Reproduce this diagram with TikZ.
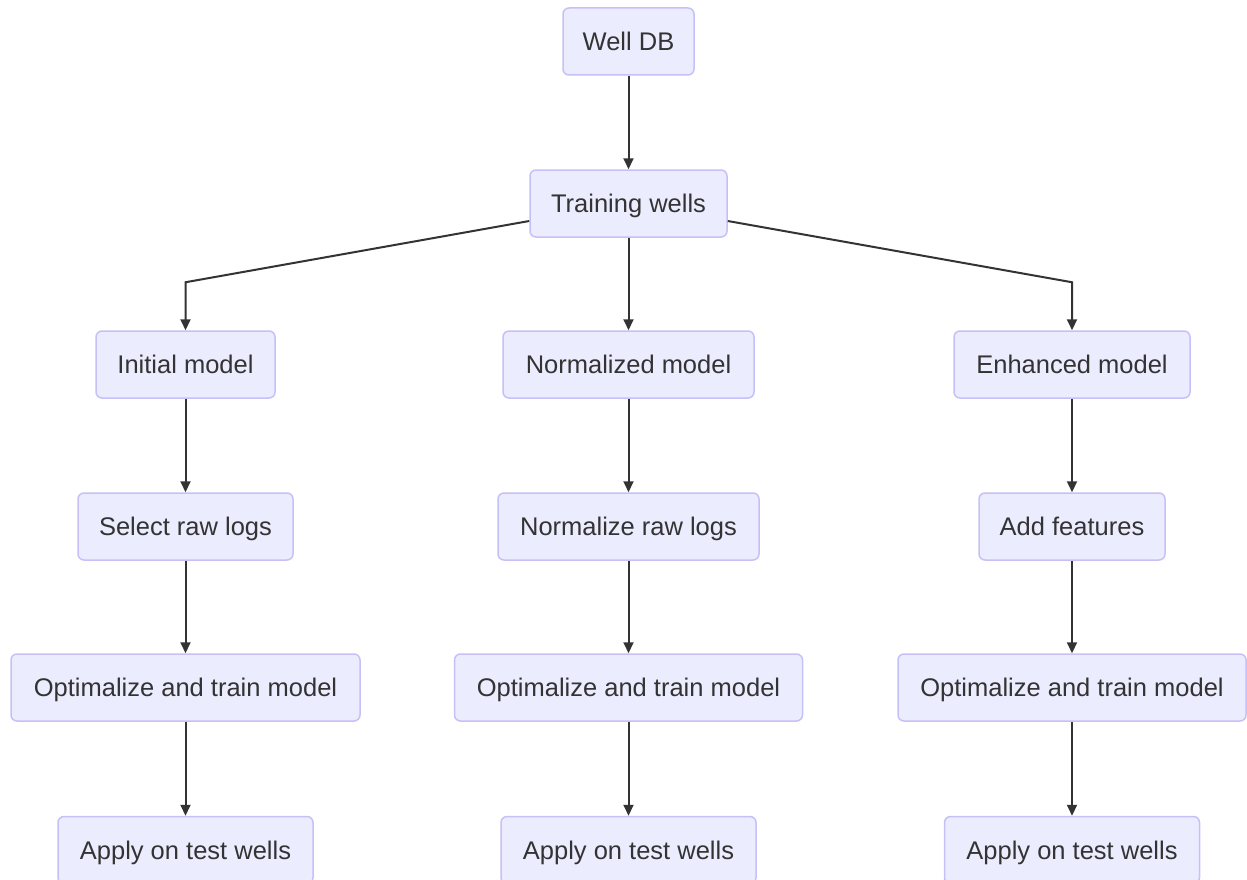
\documentclass[tikz,border=0pt]{standalone}
\usepackage{fontspec}
\setmainfont{Liberation Sans}
\usetikzlibrary{arrows.meta}
\definecolor{boxfill}{HTML}{ECECFF}
\definecolor{boxline}{HTML}{C6C0F8}
\definecolor{ink}{HTML}{333333}
\begin{document}
\begin{tikzpicture}[x=1pt,y=-1pt,
  box/.style={draw=boxline, line width=1.5pt, fill=boxfill, rounded corners=6pt,
    minimum height=67pt, inner xsep=4pt, inner ysep=0pt, text=ink,
    text height=18.3pt, text depth=0pt,
    font=\fontsize{25.5}{30}\selectfont},
  conn/.style={draw=ink, line width=2pt, -{Triangle[length=11pt,width=10pt]}}]
\useasboundingbox (0,0) rectangle (1247,880);
\clip (0,0) rectangle (1247,880);
\node[box, minimum width=131pt] (db) at (628.5,41.5) {Well DB};
\node[box, minimum width=197pt] (tw) at (628.5,203.5) {Training wells};
\node[box, minimum width=179pt] (im) at (185.5,364.5) {Initial model};
\node[box, minimum width=251pt] (nm) at (628.5,364.5) {Normalized model};
\node[box, minimum width=236pt] (em) at (1072,364.5) {Enhanced model};
\node[box, minimum width=215pt] (s1) at (185.5,526.5) {Select raw logs};
\node[box, minimum width=261pt] (s2) at (628.5,526.5) {Normalize raw logs};
\node[box, minimum width=186pt] (s3) at (1072,526.5) {Add features};
\node[box, minimum width=349pt] (o1) at (185.5,687.5) {Optimalize and train model};
\node[box, minimum width=348pt] (o2) at (628.5,687.5) {Optimalize and train model};
\node[box, minimum width=348pt] (o3) at (1072,687.5) {Optimalize and train model};
\node[box, minimum width=255pt] (a1) at (185.5,850) {Apply on test wells};
\node[box, minimum width=255pt] (a2) at (628.5,850) {Apply on test wells};
\node[box, minimum width=255pt] (a3) at (1072,850) {Apply on test wells};
\draw[conn] (db) -- (tw);
\draw[conn] ([yshift=-17.5pt]tw.west) -- ([yshift=48pt]im.north) -- (im.north);
\draw[conn] (tw) -- (nm);
\draw[conn] ([yshift=-17.5pt]tw.east) -- ([yshift=48pt]em.north) -- (em.north);
\draw[conn] (im) -- (s1);
\draw[conn] (nm) -- (s2);
\draw[conn] (em) -- (s3);
\draw[conn] (s1) -- (o1);
\draw[conn] (s2) -- (o2);
\draw[conn] (s3) -- (o3);
\draw[conn] (o1) -- (a1);
\draw[conn] (o2) -- (a2);
\draw[conn] (o3) -- (a3);
\end{tikzpicture}
\end{document}
